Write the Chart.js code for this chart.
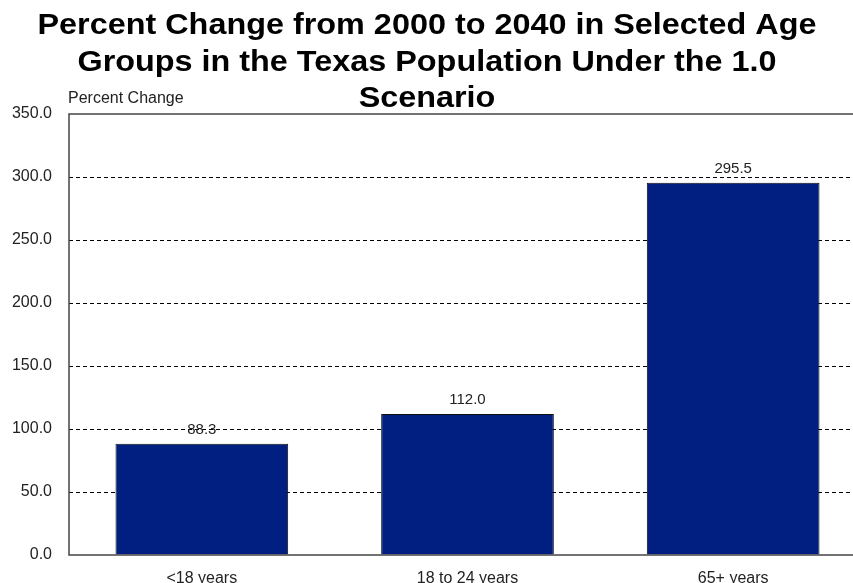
<!DOCTYPE html>
<html>
<head>
<meta charset="utf-8">
<script src="https://cdn.jsdelivr.net/npm/chart.js@4/dist/chart.umd.min.js"></script>
<style>
  html, body { margin: 0; padding: 0; background: #fff; overflow: hidden; }
  #wrap { position: relative; width: 866px; height: 583px; }
</style>
</head>
<body>
<div id="wrap"><canvas id="c" width="866" height="583"></canvas></div>
<script>
const titleLines = [
  'Percent Change from 2000 to 2040 in Selected Age',
  'Groups in the Texas Population Under the 1.0',
  'Scenario'
];
const axisTitle = 'Percent Change';
const categories = ['<18 years', '18 to 24 years', '65+ years'];
const percentChange = [88.3, 112.0, 295.5];
const yTicks = [0, 50, 100, 150, 200, 250, 300, 350];

const FONT = '"Liberation Sans", Arial, sans-serif';

const decor = {
  id: 'decor',
  afterDatasetsDraw(chart) {
    const ctx = chart.ctx;
    const a = chart.chartArea;
    ctx.save();
    // frame
    ctx.strokeStyle = '#444';
    ctx.lineWidth = 1.5;
    ctx.strokeRect(a.left, a.top, a.right - a.left, a.bottom - a.top);
    // value labels
    const meta = chart.getDatasetMeta(0);
    ctx.fillStyle = '#222';
    ctx.font = '15px ' + FONT;
    ctx.textAlign = 'center';
    ctx.textBaseline = 'alphabetic';
    meta.data.forEach((bar, i) => {
      ctx.fillText(percentChange[i].toFixed(1), bar.x, bar.y - 10);
    });
    // axis title
    ctx.textAlign = 'left';
    ctx.font = '16px ' + FONT;
    ctx.save();
    ctx.translate(68, 103);
    ctx.scale(1, 1);
    ctx.fillText(axisTitle, 0, 0);
    ctx.restore();
    // main title (horizontally widened to match reference)
    ctx.fillStyle = '#000';
    ctx.font = 'bold 29px ' + FONT;
    ctx.textAlign = 'center';
    const w = ctx.measureText(titleLines[0]).width;
    const sx = 779 / w;
    const baselines = [34, 71, 107];
    titleLines.forEach((t, i) => {
      ctx.save();
      ctx.translate(427, baselines[i]);
      ctx.scale(sx, 1);
      ctx.fillText(t, 0, 0);
      ctx.restore();
    });
    ctx.restore();
  }
};

new Chart(document.getElementById('c'), {
  type: 'bar',
  data: {
    labels: categories,
    datasets: [{
      data: percentChange,
      backgroundColor: '#001f80',
      borderColor: '#111',
      borderWidth: 1,
      categoryPercentage: 0.65,
      barPercentage: 1.0
    }]
  },
  options: {
    responsive: false,
    animation: false,
    devicePixelRatio: 1,
    layout: { padding: { top: 114, right: 0, left: 0, bottom: 0 } },
    plugins: { legend: { display: false }, title: { display: false }, tooltip: { enabled: false } },
    scales: {
      x: {
        grid: { display: false, drawTicks: false },
        border: { display: false },
        ticks: { color: '#222', font: { family: FONT, size: 16 }, padding: 14, maxRotation: 0 },
        afterFit(s) { s.height = 28; }
      },
      y: {
        min: 0, max: 350,
        afterBuildTicks(s) { s.ticks = yTicks.map(v => ({ value: v })); },
        grid: {
          color: ctx => (ctx.tick && (ctx.tick.value === 0 || ctx.tick.value === 350)) ? 'rgba(0,0,0,0)' : '#000',
          lineWidth: 1,
          drawTicks: false
        },
        border: { display: false, dash: [4, 3] },
        ticks: {
          color: '#222',
          font: { family: FONT, size: 16 },
          padding: 17,
          callback: v => Number(v).toFixed(1)
        },
        afterFit(s) { s.width = 69; }
      }
    }
  },
  plugins: [decor]
});
</script>
</body>
</html>
